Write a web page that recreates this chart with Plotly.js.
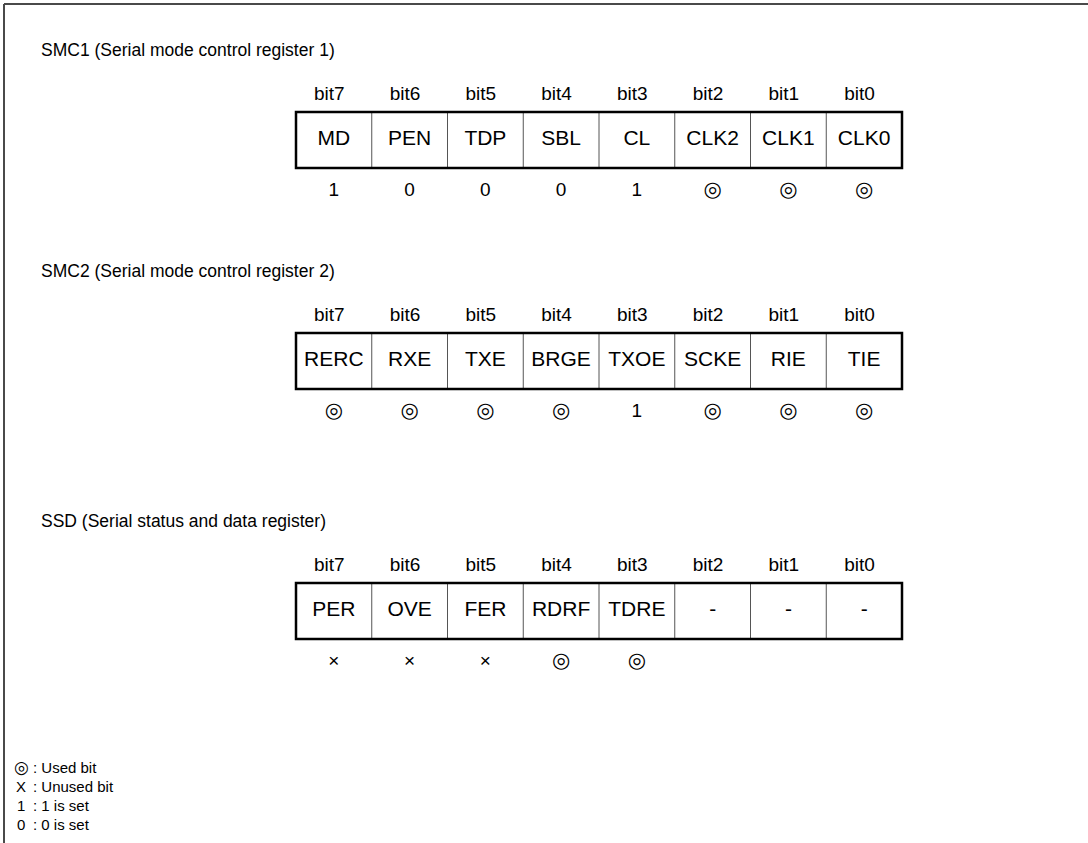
<!DOCTYPE html>
<html>
<head>
<meta charset="utf-8">
<script src="https://cdn.plot.ly/plotly-3.0.1.min.js"></script>
<style>html,body{margin:0;padding:0;background:#fff;}#chart{width:1088px;height:843px;}</style>
</head>
<body>
<div id="chart"></div>
<script>
// ---- data ----
const bitLabels = ["bit7", "bit6", "bit5", "bit4", "bit3", "bit2", "bit1", "bit0"];
const registerTitles = [
  "SMC1 (Serial mode control register 1)",
  "SMC2 (Serial mode control register 2)",
  "SSD (Serial status and data register)"
];
const smc1Fields = ["MD", "PEN", "TDP", "SBL", "CL", "CLK2", "CLK1", "CLK0"];
const smc1Values = ["1", "0", "0", "0", "1", "◎", "◎", "◎"];
const smc2Fields = ["RERC", "RXE", "TXE", "BRGE", "TXOE", "SCKE", "RIE", "TIE"];
const smc2Values = ["◎", "◎", "◎", "◎", "1", "◎", "◎", "◎"];
const ssdFields = ["PER", "OVE", "FER", "RDRF", "TDRE", "-", "-", "-"];
const ssdValues = ["×", "×", "×", "◎", "◎", "", "", ""];
const legendSymbols = ["◎", "X", "1", "0"];
const legendTexts = [": Used bit", ": Unused bit", ": 1 is set", ": 0 is set"];

const registers = [
  {title: registerTitles[0], fields: smc1Fields, values: smc1Values},
  {title: registerTitles[1], fields: smc2Fields, values: smc2Values},
  {title: registerTitles[2], fields: ssdFields, values: ssdValues}
];

// ---- layout constants (pixels) ----
const W = 1088, H = 843;
const boxLeft = 296, cellW = 75.75;
const blockTops = [50, 271, 521];
const FONT = "Liberation Sans, Arial, Helvetica, sans-serif";
const SYMFONT = "DejaVu Sans, Liberation Sans, sans-serif";

const shapes = [];
const annotations = [];
const traces = [];

// frame
shapes.push({type: "line", xref: "paper", yref: "paper", x0: 4 / W, x1: 1, y0: 1 - 4 / H, y1: 1 - 4 / H,
  line: {color: "#4a4a4a", width: 2}});
shapes.push({type: "line", xref: "paper", yref: "paper", x0: 4 / W, x1: 4 / W, y0: 0, y1: 1 - 4 / H,
  line: {color: "#4a4a4a", width: 2}});

registers.forEach((reg, r) => {
  const top = blockTops[r];
  const bitY = top + 45, boxY0 = top + 62, boxY1 = top + 118, cellY = (boxY0 + boxY1) / 2, valY = top + 141;
  annotations.push({xref: "paper", yref: "y", x: 39 / W, y: top, xanchor: "left", yanchor: "middle",
    text: reg.title, showarrow: false, font: {family: FONT, size: 17.5, color: "#000"}});
  const xs = reg.fields.map((_, i) => i + 0.5);
  traces.push({type: "scatter", mode: "text", x: xs.map(x => x - 0.06), y: xs.map(() => bitY), text: bitLabels,
    textfont: {family: FONT, size: 19, color: "#000"}, hoverinfo: "skip", showlegend: false});
  traces.push({type: "scatter", mode: "text", x: xs, y: xs.map(() => cellY), text: reg.fields,
    textfont: {family: FONT, size: 21, color: "#000"}, hoverinfo: "skip", showlegend: false});
  const isSym = v => v === "◎";
  traces.push({type: "scatter", mode: "text", x: xs, y: xs.map(() => valY),
    text: reg.values.map(v => isSym(v) ? "" : v),
    textfont: {family: FONT, size: 19, color: "#000"}, hoverinfo: "skip", showlegend: false});
  traces.push({type: "scatter", mode: "text", x: xs, y: xs.map(() => valY),
    text: reg.values.map(v => isSym(v) ? v : ""),
    textfont: {family: SYMFONT, size: 21, color: "#000"}, hoverinfo: "skip", showlegend: false});
  // inner dividers
  for (let i = 1; i < reg.fields.length; i++) {
    shapes.push({type: "line", xref: "x", yref: "y", x0: i, x1: i, y0: boxY0, y1: boxY1,
      line: {color: "#555", width: 1}});
  }
  // outer box
  shapes.push({type: "rect", xref: "x", yref: "y", x0: 0, x1: reg.fields.length, y0: boxY0, y1: boxY1,
    line: {color: "#000", width: 2.5}, fillcolor: "rgba(0,0,0,0)"});
});

// legend
const legendY0 = 767, legendStep = 19;
legendSymbols.forEach((s, k) => {
  annotations.push({xref: "paper", yref: "y", x: 21 / W, y: legendY0 + k * legendStep, xanchor: "center", yanchor: "middle",
    text: s, showarrow: false, font: {family: k === 0 ? SYMFONT : FONT, size: k === 0 ? 17 : 15, color: "#000"}});
  annotations.push({xref: "paper", yref: "y", x: 31 / W, y: legendY0 + k * legendStep, xanchor: "left", yanchor: "middle",
    text: legendTexts[k], showarrow: false, font: {family: FONT, size: 15, color: "#000"}});
});

const layout = {
  width: W, height: H,
  margin: {l: 0, r: 0, t: 0, b: 0, pad: 0},
  paper_bgcolor: "#fff", plot_bgcolor: "#fff",
  xaxis: {range: [-boxLeft / cellW, (W - boxLeft) / cellW], visible: false, fixedrange: true},
  yaxis: {range: [H, 0], visible: false, fixedrange: true},
  shapes: shapes,
  annotations: annotations,
  showlegend: false
};
Plotly.newPlot("chart", traces, layout, {displayModeBar: false, staticPlot: true});
</script>
</body>
</html>
